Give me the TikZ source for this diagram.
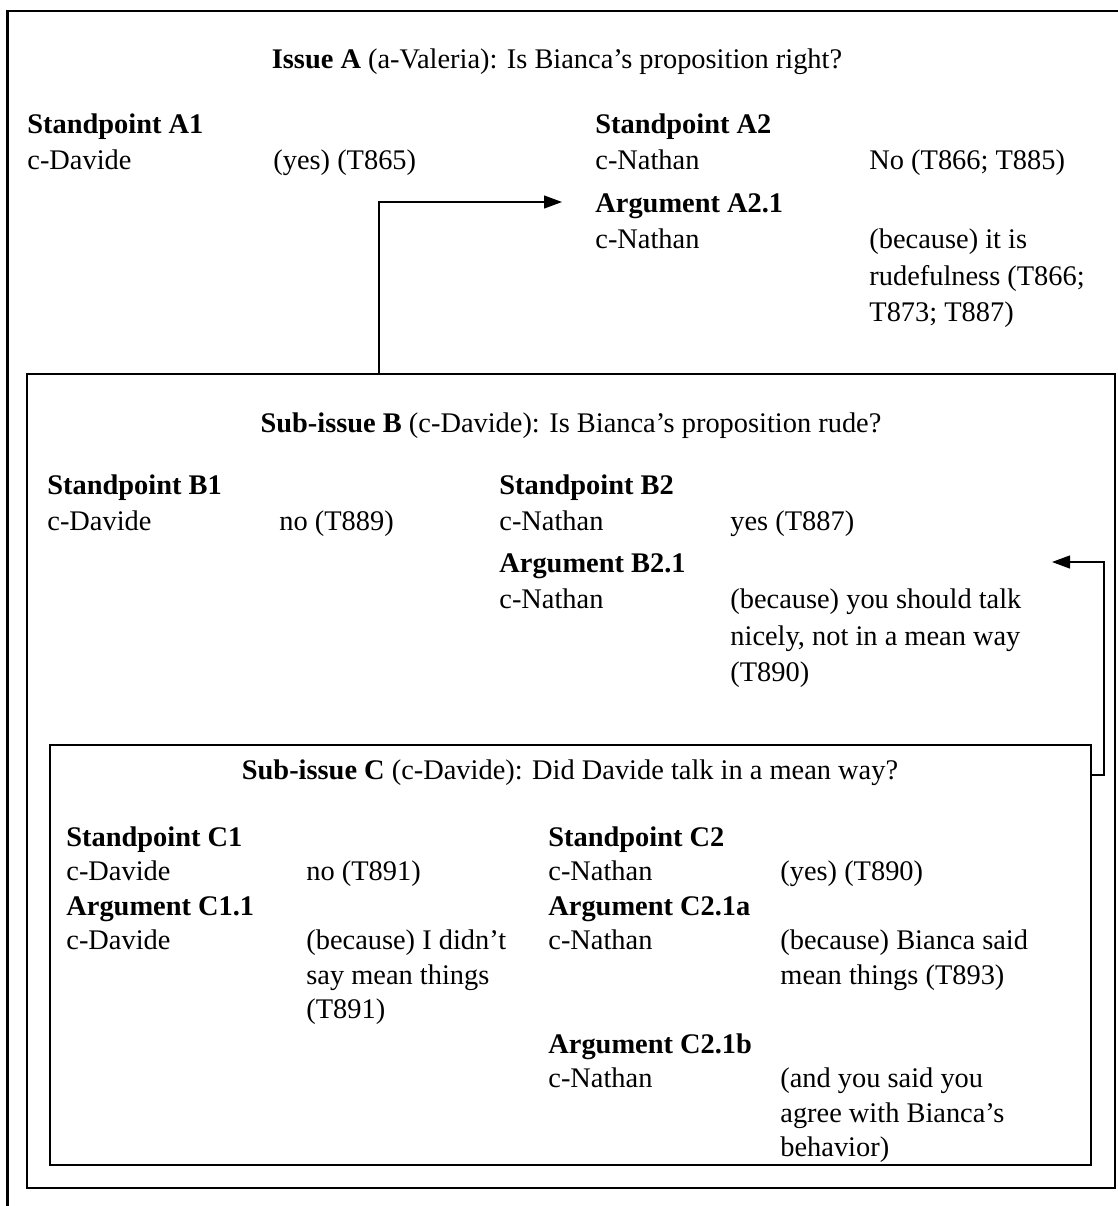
\documentclass[tikz,border=0pt]{standalone}
\usepackage{fontspec}
\setmainfont{Liberation Serif}
\usetikzlibrary{arrows.meta}
% one table cell with several lines, first baseline on the node's base;
% the optional argument stretches the line spacing
\newcommand\cl[2][1]{{\renewcommand\arraystretch{#1}\begin{tabular}[t]{@{}l@{}}#2\end{tabular}}}
\begin{document}
\begin{tikzpicture}[x=0.5pt,y=-0.5pt,
  txt/.style={anchor=base west,inner sep=0pt,font=\fontsize{14.2}{17.5}\selectfont},
  ttl/.style={anchor=base,inner sep=0pt,font=\fontsize{14.2}{17.5}\selectfont},
  frame/.style={line width=1.1pt},
  conn/.style={line width=0.6pt,-{Triangle[length=9pt,width=6.5pt]}}]
\useasboundingbox (0,0) rectangle (1118,1206);

% outer frame (runs past the right and bottom page edges)
\draw[frame] (7.5,1240) -- (7.5,11) -- (1140,11);
% sub-issue frames
\coordinate (bNW) at (27,374);  \coordinate (bSE) at (1115,1188);
\coordinate (cNW) at (50,745);  \coordinate (cSE) at (1091,1165);
\draw[frame] (bNW) rectangle (bSE);
\draw[frame] (cNW) rectangle (cSE);

% ---- Issue A
\node[ttl] (issA) at (557,68) {\textbf{Issue A} (a-Valeria): Is Bianca’s proposition right?};
\node[txt] (spA1) at (27,133) {\textbf{Standpoint A1}};
\node[txt] (spA1who) at (27,169.5) {c-Davide};
\node[txt] (spA1say) at (273,169.5) {(yes) (T865)};
\node[txt] (spA2) at (595,133) {\textbf{Standpoint A2}};
\node[txt] (spA2who) at (595,169.5) {c-Nathan};
\node[txt] (spA2say) at (869,169.5) {No (T866; T885)};
\node[txt] (arA21) at (595,212) {\textbf{Argument A2.1}};
\node[txt] (arA21who) at (595,248.5) {c-Nathan};
\node[txt] (arA21say) at (869,248.5) {\cl[1.043]{(because) it is\\rudefulness (T866;\\T873; T887)}};

% ---- Sub-issue B
\node[ttl] (issB) at (571,432) {\textbf{Sub-issue B} (c-Davide): Is Bianca’s proposition rude?};
\node[txt] (spB1) at (47,494) {\textbf{Standpoint B1}};
\node[txt] (spB1who) at (47,530) {c-Davide};
\node[txt] (spB1say) at (279,530) {no (T889)};
\node[txt] (spB2) at (499,494) {\textbf{Standpoint B2}};
\node[txt] (spB2who) at (499,530) {c-Nathan};
\node[txt] (spB2say) at (730,530) {yes (T887)};
\node[txt] (arB21) at (499,572) {\textbf{Argument B2.1}};
\node[txt] (arB21who) at (499,608.5) {c-Nathan};
\node[txt] (arB21say) at (730,608.5) {\cl[1.043]{(because) you should talk\\nicely, not in a mean way\\(T890)}};

% ---- Sub-issue C
\node[ttl] (issC) at (570,779) {\textbf{Sub-issue C} (c-Davide): Did Davide talk in a mean way?};
\node[txt] (spC1) at (66,846) {\textbf{Standpoint C1}};
\node[txt] (spC1who) at (66,880.5) {c-Davide};
\node[txt] (spC1say) at (306,880.5) {no (T891)};
\node[txt] (arC11) at (66,915) {\textbf{Argument C1.1}};
\node[txt] (arC11who) at (66,949.5) {c-Davide};
\node[txt] (arC11say) at (306,949.5) {\cl[0.986]{(because) I didn’t\\say mean things\\(T891)}};
\node[txt] (spC2) at (548,846) {\textbf{Standpoint C2}};
\node[txt] (spC2who) at (548,880.5) {c-Nathan};
\node[txt] (spC2say) at (780,880.5) {(yes) (T890)};
\node[txt] (arC21a) at (548,915) {\textbf{Argument C2.1a}};
\node[txt] (arC21awho) at (548,949.5) {c-Nathan};
\node[txt] (arC21asay) at (780,949.5) {\cl[0.986]{(because) Bianca said\\mean things (T893)}};
\node[txt] (arC21b) at (548,1053) {\textbf{Argument C2.1b}};
\node[txt] (arC21bwho) at (548,1087.5) {c-Nathan};
\node[txt] (arC21bsay) at (780,1087.5) {\cl[0.986]{(and you said you\\agree with Bianca’s\\behavior)}};

% ---- connectors
\coordinate (bOut) at (379,374);
\coordinate (tipA) at (562,202);
\draw[conn] (bOut) |- (tipA);
\coordinate (cOut) at (1091,775);
\coordinate (cBend) at (1104,775);
\coordinate (tipB) at (1052,562);
\draw[conn] (cOut) -- (cBend) |- (tipB);
\end{tikzpicture}
\end{document}
